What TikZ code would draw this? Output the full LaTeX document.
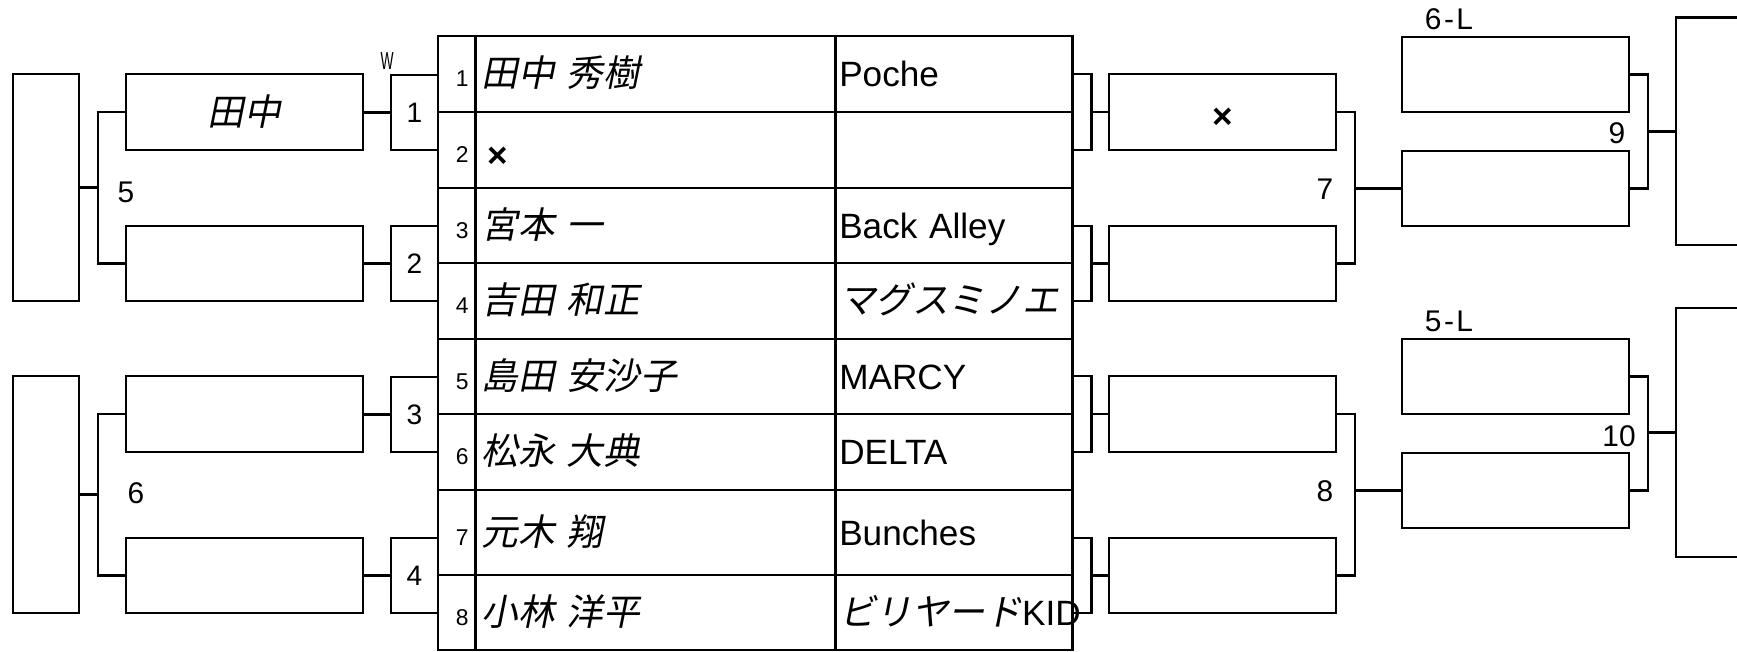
\documentclass[tikz,border=0pt]{standalone}
\usepackage{fontspec}
\setmainfont{Liberation Sans}
\newfontfamily\cjk[FakeSlant=0.2,Scale=1.04]{Noto Sans CJK JP}

\tikzset{
  box/.style={draw, anchor=north west, inner sep=0pt, outer sep=0pt},
  rbox/.style={box, minimum width=2.37cm, minimum height=.76cm},
  wbox/.style={box, minimum width=2.27cm, minimum height=.76cm},
  sbox/.style={box, minimum width=.47cm, minimum height=.75cm, font=\fontsize{8}{9}\selectfont},
  cell/.style={box, text height=.25cm, text depth=0pt},
  numcell/.style={cell, minimum width=.375cm, text width=.235cm, inner xsep=.07cm, align=right, font=\fontsize{6.5}{7}\selectfont},
  namecell/.style={cell, minimum width=3.6cm, text width=3.48cm, inner xsep=.06cm, align=left, font=\cjk},
  teamcell/.style={cell, minimum width=2.365cm, text width=2.295cm, inner xsep=.035cm, align=left},
  lbl/.style={inner sep=0pt, font=\fontsize{8.5}{10}\selectfont}
}

\begin{document}
\begin{tikzpicture}[x = .01cm, y = -.01cm, line width = .75pt]
	\useasboundingbox (0,0) rectangle (1737,652);
	\clip (0,0) rectangle (1737,652);
	% entry table
	\foreach \i/\ty/\rh/\nm/\tm in {1/36/.76/{田中 秀樹}/{Poche},
		2/112/.76/{\rmfamily\bfseries\hspace*{.06cm}\raisebox{-.045cm}{×}}/{},
		3/188/.75/{宮本 一}/{Back Alley},
		4/263/.76/{吉田 和正}/{\cjk マグスミノエ},
		5/339/.75/{島田 安沙子}/{MARCY},
		6/414/.76/{松永 大典}/{DELTA},
		7/490/.85/{元木 翔}/{Bunches},
		8/575/.75/{小林 洋平}/{{\cjk ビリヤード}KID}}{
		\node[numcell, minimum height = \rh cm] (n\i) at (438,\ty) {\i};
		\node[namecell, minimum height = \rh cm] (p\i) at (n\i.north east) {\nm};
		\node[teamcell, minimum height = \rh cm] (t\i) at (p\i.north east) {\tm};
	}
	% left side
	\node[box, minimum width = .66cm, minimum height = 2.27cm] (w5) at (13,74) {};
	\node[box, minimum width = .66cm, minimum height = 2.37cm] (w6) at (13,376) {};
	\node[rbox] (r1) at (126,74) {\cjk 田中};
	\node[rbox, minimum height = .75cm] (r2) at (126,226) {};
	\node[rbox] (r3) at (126,376) {};
	\node[rbox, minimum height = .75cm] (r4) at (126,538) {};
	\node[sbox] (s1) at (391,75) {1};
	\node[sbox] (s2) at (391,226) {2};
	\node[sbox] (s3) at (391,377) {3};
	\node[sbox] (s4) at (391,538) {4};
	\foreach \i in {1,...,4}
		\draw (s\i.west) -- (s\i.west -| r\i.east);
	\draw (r1.west) -- ++(-28,0) coordinate (k5) |- (r2.west);
	\draw (w5.east) -- (w5.east -| k5);
	\draw (r3.west) -- ++(-28,0) coordinate (k6) |- (r4.west);
	\draw (w6.east) -- (w6.east -| k6);
	% right side
	\node[wbox, text height = .25cm, text depth = 0pt] (x1) at (1109,74) {\raisebox{-.035cm}{\textbf{×}}};
	\node[wbox, minimum height = .75cm] (x2) at (1109,226) {};
	\node[wbox] (x3) at (1109,376) {};
	\node[wbox, minimum height = .75cm] (x4) at (1109,538) {};
	\foreach \i/\j in {1/1,2/3,3/5,4/7}{
		\draw (x\i.north -| t\j.east) -- ++(19,0) coordinate (c\i) -- (c\i |- x\i.south) -- (x\i.south -| t\j.east);
		\draw (c\i |- x\i.west) -- (x\i.west);
	}
	\node[wbox, minimum height = .75cm] (q1) at (1402,37) {};
	\node[wbox, minimum height = .75cm] (q2) at (1402,151) {};
	\node[wbox, minimum height = .75cm] (q3) at (1402,339) {};
	\node[wbox, minimum height = .75cm] (q4) at (1402,453) {};
	\draw (x1.east) -- ++(19,0) coordinate (k7) |- (x2.east);
	\draw (k7 |- q2.west) -- (q2.west);
	\draw (x3.east) -- ++(19,0) coordinate (k8) |- (x4.east);
	\draw (k8 |- q4.west) -- (q4.west);
	\node[box, minimum width = 1cm, minimum height = 2.275cm] (f9) at (1676,17.5) {};
	\node[box, minimum width = 1cm, minimum height = 2.49cm] (f10) at (1676,308) {};
	\draw (q1.east) -- ++(19,0) coordinate (k9) |- (q2.east);
	\draw (k9 |- f9.west) -- (f9.west);
	\draw (q3.east) -- ++(19,0) coordinate (k10) |- (q4.east);
	\draw (k10 |- f10.west) -- (f10.west);
	% match numbers
	\node[lbl] (m5) at (126,192) {5};
	\node[lbl] (m6) at (136,493) {6};
	\node[lbl] (m7) at (1325,189) {7};
	\node[lbl] (m8) at (1325,491) {8};
	\node[lbl] (m9) at (1617,133) {9};
	\node[lbl] (m10) at (1619,436) {10};
	\node[lbl] (l6) at (1449,19) {6\kern.025cm-\kern.025cm L};
	\node[lbl] (l5) at (1449,321) {5\kern.025cm-\kern.025cm L};
	\node[lbl, font = \fontsize{7}{8}\selectfont] (win) at (387,61) {\scalebox{.56}[1]{W}};
\end{tikzpicture}
\end{document}
